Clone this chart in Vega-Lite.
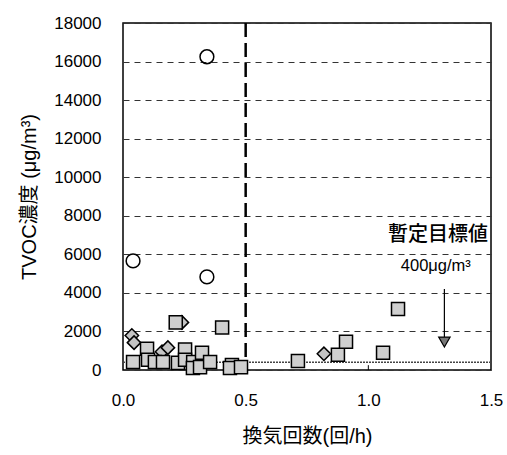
{
  "$schema": "https://vega.github.io/schema/vega-lite/v6.json",
  "width": 368,
  "height": 347,
  "autosize": "none",
  "padding": {"left": 123, "top": 23, "right": 16, "bottom": 85},
  "background": "white",
  "config": {
    "view": {"stroke": "#000", "strokeWidth": 1.5},
    "axis": {
      "labelFont": "Liberation Sans",
      "labelFontSize": 17,
      "labelColor": "#000",
      "labelOverlap": false,
      "labelFlush": false,
      "tickCount": 20,
      "titleFont": "Liberation Sans, Noto Sans CJK JP",
      "titleFontSize": 20,
      "titleFontWeight": "normal",
      "titleColor": "#000",
      "domain": false,
      "ticks": false
    }
  },
  "datasets": {
    "pts": [
      {"type": "diamond", "x": 0.036, "y": 1790},
      {"type": "diamond", "x": 0.045, "y": 1420},
      {"type": "diamond", "x": 0.159, "y": 950},
      {"type": "diamond", "x": 0.183, "y": 1160},
      {"type": "diamond", "x": 0.240, "y": 2470},
      {"type": "diamond", "x": 0.819, "y": 840},
      {"type": "square", "x": 0.041, "y": 420},
      {"type": "square", "x": 0.098, "y": 1100},
      {"type": "square", "x": 0.102, "y": 530},
      {"type": "square", "x": 0.130, "y": 420},
      {"type": "square", "x": 0.163, "y": 420},
      {"type": "square", "x": 0.215, "y": 2470},
      {"type": "square", "x": 0.224, "y": 370},
      {"type": "square", "x": 0.253, "y": 1060},
      {"type": "square", "x": 0.253, "y": 530},
      {"type": "square", "x": 0.286, "y": 420},
      {"type": "square", "x": 0.285, "y": 100},
      {"type": "square", "x": 0.322, "y": 900},
      {"type": "square", "x": 0.314, "y": 150},
      {"type": "square", "x": 0.355, "y": 420},
      {"type": "square", "x": 0.404, "y": 2210},
      {"type": "square", "x": 0.444, "y": 260},
      {"type": "square", "x": 0.436, "y": 100},
      {"type": "square", "x": 0.481, "y": 150},
      {"type": "square", "x": 0.713, "y": 470},
      {"type": "square", "x": 0.876, "y": 790},
      {"type": "square", "x": 0.909, "y": 1470},
      {"type": "square", "x": 1.060, "y": 900},
      {"type": "square", "x": 1.121, "y": 3160},
      {"type": "circle", "x": 0.342, "y": 16250},
      {"type": "circle", "x": 0.041, "y": 5660},
      {"type": "circle", "x": 0.342, "y": 4830}
    ]
  },
  "layer": [
    {
      "data": {"values": [{"v": 0}]},
      "mark": {"type": "point", "opacity": 0},
      "encoding": {
        "x": {"field": "v", "type": "quantitative", "scale": {"domain": [0, 1.5], "nice": false},
          "axis": {"values": [0, 0.5, 1, 1.5], "format": ".1f", "labelPadding": 22, "title": "換気回数(回/h)", "titlePadding": 18, "grid": false}},
        "y": {"field": "v", "type": "quantitative", "scale": {"domain": [0, 18000], "nice": false},
          "axis": {"values": [0, 2000, 4000, 6000, 8000, 10000, 12000, 14000, 16000, 18000], "format": "d", "labelPadding": 22, "title": "TVOC濃度 (μg/m³)", "titlePadding": 14, "grid": true, "gridDash": [6, 5], "gridColor": "#333", "gridWidth": 1}}
      }
    },
    {
      "data": {"values": [{"y": 400}]},
      "mark": {"type": "rule", "color": "#444", "strokeWidth": 1.5, "strokeDash": [2, 1]},
      "encoding": {"y": {"field": "y", "type": "quantitative"}}
    },
    {
      "data": {"values": [{"x": 0.5}]},
      "mark": {"type": "rule", "color": "#000", "strokeWidth": 2.5, "strokeDash": [14, 6]},
      "encoding": {"x": {"field": "x", "type": "quantitative"}}
    },
    {
      "data": {"values": [{"x": 1.0, "y": 0, "y2": 250}]},
      "mark": {"type": "rule", "color": "#000", "strokeWidth": 1},
      "encoding": {"x": {"field": "x", "type": "quantitative"}, "y": {"field": "y", "type": "quantitative"}, "y2": {"field": "y2"}}
    },
    {
      "data": {"name": "pts"},
      "mark": {"type": "point", "filled": false, "strokeWidth": 1.5, "stroke": "#000", "opacity": 1},
      "encoding": {
        "x": {"field": "x", "type": "quantitative"},
        "y": {"field": "y", "type": "quantitative"},
        "shape": {"field": "type", "type": "nominal", "scale": {"domain": ["circle", "diamond", "square"], "range": ["circle", "diamond", "square"]}, "legend": null},
        "fill": {"field": "type", "type": "nominal", "scale": {"domain": ["circle", "diamond", "square"], "range": ["transparent", "#c4c4c4", "#cfcfcf"]}, "legend": null},
        "size": {"field": "type", "type": "nominal", "scale": {"domain": ["circle", "diamond", "square"], "range": [190, 170, 200]}, "legend": null}
      }
    },
    {
      "data": {"values": [{"x": 1.31, "y": 4200, "y2": 1400}]},
      "mark": {"type": "rule", "color": "#000", "strokeWidth": 1.2},
      "encoding": {"x": {"field": "x", "type": "quantitative"}, "y": {"field": "y", "type": "quantitative"}, "y2": {"field": "y2"}}
    },
    {
      "data": {"values": [{"x": 1.31, "y": 1450}]},
      "mark": {"type": "point", "shape": "triangle-down", "filled": true, "fill": "#777", "stroke": "#000", "strokeWidth": 1.2, "size": 130, "opacity": 1},
      "encoding": {"x": {"field": "x", "type": "quantitative"}, "y": {"field": "y", "type": "quantitative"}}
    },
    {
      "data": {"values": [{"x": 1.284, "y": 7000, "t": "暫定目標値"}]},
      "mark": {"type": "text", "font": "Noto Sans CJK JP", "fontSize": 20, "fontWeight": 500, "color": "#000", "baseline": "middle", "align": "center"},
      "encoding": {
        "x": {"field": "x", "type": "quantitative"},
        "y": {"field": "y", "type": "quantitative"},
        "text": {"field": "t"}
      }
    },
    {
      "data": {"values": [{"x": 1.275, "y": 5400, "t": "400μg/m³"}]},
      "mark": {"type": "text", "font": "Liberation Sans", "fontSize": 16.5, "color": "#000", "baseline": "middle", "align": "center"},
      "encoding": {
        "x": {"field": "x", "type": "quantitative"},
        "y": {"field": "y", "type": "quantitative"},
        "text": {"field": "t"}
      }
    }
  ]
}
